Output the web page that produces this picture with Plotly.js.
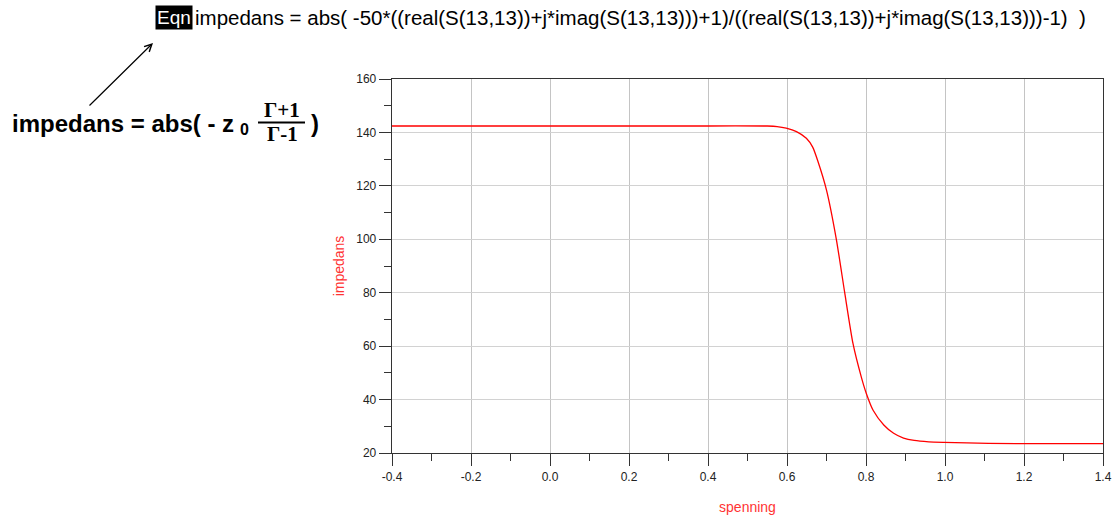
<!DOCTYPE html>
<html>
<head>
<meta charset="utf-8">
<script src="https://cdn.plot.ly/plotly-3.0.1.min.js"></script>
<style>html,body{margin:0;padding:0;background:#fff;}#chart{width:1116px;height:515px;}</style>
</head>
<body>
<div id="chart"></div>
<script>
// Data
const spenning = [-0.4, 0.0, 0.4, 0.55, 0.575, 0.598, 0.624, 0.649, 0.665, 0.678, 0.700, 0.725, 0.746, 0.767, 0.788, 0.801, 0.818, 0.845, 0.870, 0.895, 0.922, 0.959, 0.997, 1.11, 1.25, 1.4];
const impedans = [142.4, 142.4, 142.4, 142.4, 142.2, 141.6, 140.3, 137.8, 134.5, 129.3, 118.4, 99.9, 80.1, 61.0, 48.5, 42.2, 36.0, 30.5, 27.4, 25.6, 24.7, 24.2, 24.0, 23.6, 23.5, 23.5];
const xTicks = [-0.4, -0.2, 0.0, 0.2, 0.4, 0.6, 0.8, 1.0, 1.2, 1.4];
const xTickLabels = ["-0.4", "-0.2", "0.0", "0.2", "0.4", "0.6", "0.8", "1.0", "1.2", "1.4"];
const yTicks = [20, 40, 60, 80, 100, 120, 140, 160];
const eqnText = "impedans = abs( -50*((real(S(13,13))+j*imag(S(13,13)))+1)/((real(S(13,13))+j*imag(S(13,13)))-1)  )";

const W = 1116, H = 515;
const L = 392, R = 1103, T = 79, B = 453;
const px = x => (x - L) / (R - L);
const py = y => (B - y) / (B - T);
const font = "Arial, 'Liberation Sans', sans-serif";
const serif = "'Liberation Serif', 'Times New Roman', serif";

const trace = {
  x: spenning, y: impedans, type: 'scatter', mode: 'lines',
  line: {color: '#ff0000', width: 1.3, shape: 'spline', smoothing: 0.6},
  hoverinfo: 'skip'
};

const layout = {
  width: W, height: H,
  margin: {l: L, r: W - R, t: T, b: H - B, pad: 0},
  paper_bgcolor: '#ffffff', plot_bgcolor: '#ffffff',
  showlegend: false,
  font: {family: font, color: '#222'},
  xaxis: {
    range: [-0.4, 1.4], tickvals: xTicks, ticktext: xTickLabels,
    showgrid: true, gridcolor: '#c4c4c4', gridwidth: 1,
    zeroline: false, showline: true, linecolor: '#333', linewidth: 1.3, mirror: true,
    ticks: 'outside', ticklen: 12, tickcolor: '#333', tickwidth: 1,
    minor: {dtick: 0.1, tick0: -0.4, ticks: 'outside', ticklen: 7, tickcolor: '#333', showgrid: false},
    tickfont: {family: font, size: 12, color: '#222'},
    title: {text: 'spenning', font: {family: font, size: 14, color: '#ff3333'}, standoff: 19},
    automargin: false
  },
  yaxis: {
    range: [20, 160], tickvals: yTicks,
    showgrid: true, gridcolor: '#d2d2d2', gridwidth: 1,
    zeroline: false, showline: true, linecolor: '#333', linewidth: 1.3, mirror: true,
    ticks: 'outside', ticklen: 12, tickcolor: '#333', tickwidth: 1,
    minor: {dtick: 10, tick0: 20, ticks: 'outside', ticklen: 7, tickcolor: '#333', showgrid: false},
    tickfont: {family: font, size: 12, color: '#222'},
    title: {text: 'impedans', font: {family: font, size: 14, color: '#ff3333'}, standoff: 8},
    automargin: false
  },
  shapes: [
    {type: 'line', xref: 'paper', yref: 'paper', x0: px(258), x1: px(305), y0: py(122.5), y1: py(122.5),
     line: {color: '#000', width: 2}}
  ],
  annotations: [
    {xref: 'paper', yref: 'paper', x: px(155), y: py(17), xanchor: 'left', yanchor: 'middle',
     text: 'Eqn', showarrow: false, bgcolor: '#000', borderpad: 1,
     font: {family: font, size: 19, color: '#fff'}},
    {xref: 'paper', yref: 'paper', x: px(193), y: py(17), xanchor: 'left', yanchor: 'middle',
     text: eqnText, showarrow: false,
     font: {family: font, size: 20.5, color: '#000'}},
    {xref: 'paper', yref: 'paper', x: px(153), y: py(43), text: '', showarrow: true,
     ax: 88 - 153, ay: 107 - 43, arrowhead: 5, arrowsize: 1.2, arrowwidth: 1.2, arrowcolor: '#000'},
    {xref: 'paper', yref: 'paper', x: px(10), y: py(123), xanchor: 'left', yanchor: 'middle',
     text: '<b>impedans = abs( - z</b>', showarrow: false,
     font: {family: font, size: 24, color: '#000'}},
    {xref: 'paper', yref: 'paper', x: px(244), y: py(129), xanchor: 'center', yanchor: 'middle',
     text: '<b>0</b>', showarrow: false,
     font: {family: font, size: 16, color: '#000'}},
    {xref: 'paper', yref: 'paper', x: px(282), y: py(110), xanchor: 'center', yanchor: 'middle',
     text: '<b>Γ+1</b>', showarrow: false,
     font: {family: serif, size: 21, color: '#000'}},
    {xref: 'paper', yref: 'paper', x: px(282), y: py(134), xanchor: 'center', yanchor: 'middle',
     text: '<b>Γ-1</b>', showarrow: false,
     font: {family: serif, size: 21, color: '#000'}},
    {xref: 'paper', yref: 'paper', x: px(309), y: py(123), xanchor: 'left', yanchor: 'middle',
     text: '<b>)</b>', showarrow: false,
     font: {family: font, size: 24, color: '#000'}}
  ]
};

Plotly.newPlot('chart', [trace], layout, {staticPlot: true, displayModeBar: false});
</script>
</body>
</html>
